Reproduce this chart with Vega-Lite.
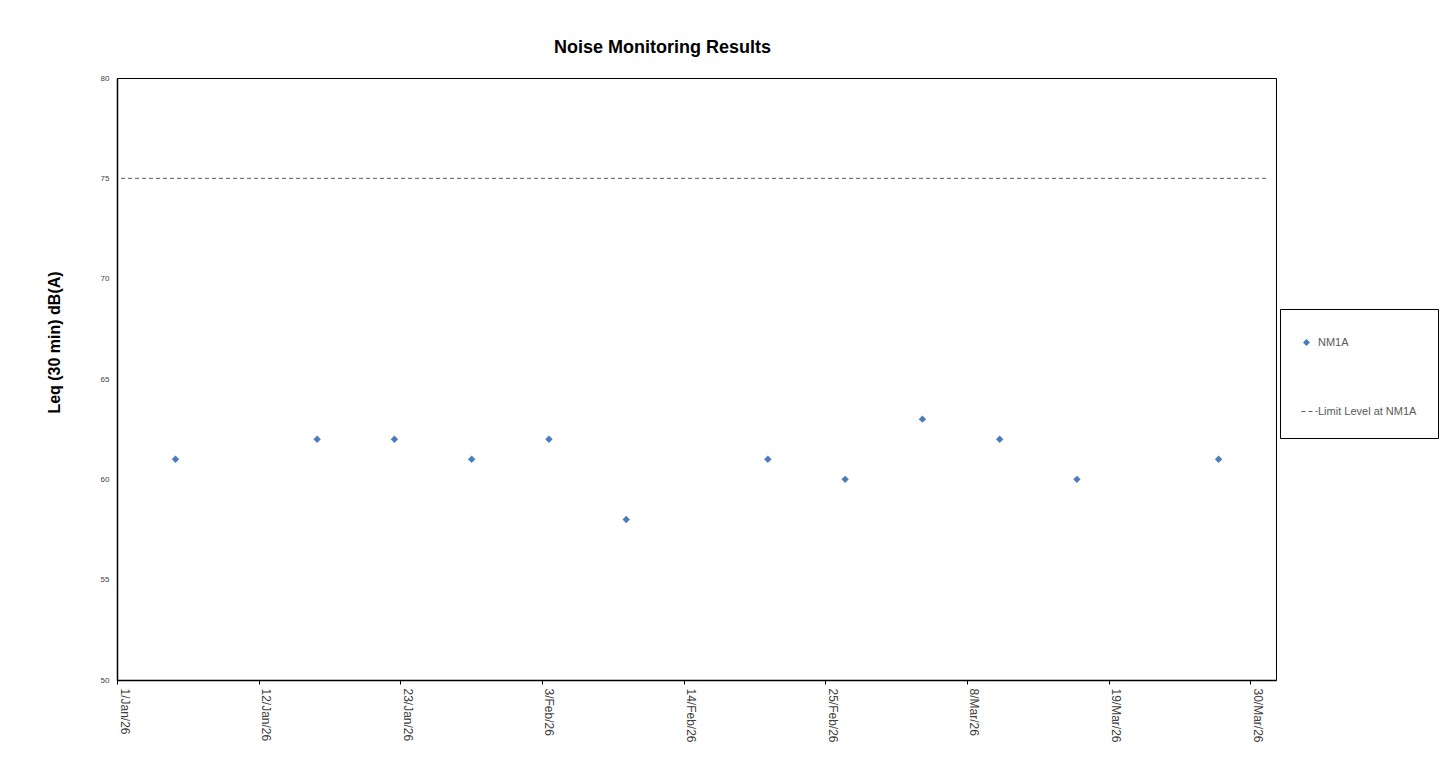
{
  "$schema": "https://vega.github.io/schema/vega-lite/v6.json",
  "width": 1159,
  "height": 602,
  "autosize": {"type": "none"},
  "padding": {"left": 117, "top": 78, "right": 177, "bottom": 102},
  "background": "white",
  "config": {
    "view": {"stroke": "black", "strokeWidth": 1},
    "font": "Liberation Sans"
  },
  "title": {
    "text": "Noise Monitoring Results",
    "font": "Liberation Sans",
    "fontSize": 18,
    "fontWeight": "bold",
    "color": "black",
    "anchor": "middle",
    "dx": -34,
    "dy": 22,
    "offset": 25,
    "baseline": "alphabetic"
  },
  "datasets": {
    "noise": [
      {"date": "2026-01-05T13:00", "leq": 61, "series": "NM1A"},
      {"date": "2026-01-16T13:00", "leq": 62, "series": "NM1A"},
      {"date": "2026-01-22T13:00", "leq": 62, "series": "NM1A"},
      {"date": "2026-01-28T13:00", "leq": 61, "series": "NM1A"},
      {"date": "2026-02-03T13:00", "leq": 62, "series": "NM1A"},
      {"date": "2026-02-09T13:00", "leq": 58, "series": "NM1A"},
      {"date": "2026-02-20T13:00", "leq": 61, "series": "NM1A"},
      {"date": "2026-02-26T13:00", "leq": 60, "series": "NM1A"},
      {"date": "2026-03-04T13:00", "leq": 63, "series": "NM1A"},
      {"date": "2026-03-10T13:00", "leq": 62, "series": "NM1A"},
      {"date": "2026-03-16T13:00", "leq": 60, "series": "NM1A"},
      {"date": "2026-03-27T13:00", "leq": 61, "series": "NM1A"}
    ],
    "limit": [
      {"date": "2026-01-01T07:30", "leq": 75, "series": "Limit Level at NM1A"},
      {"date": "2026-03-31T10:30", "leq": 75, "series": "Limit Level at NM1A"}
    ]
  },
  "encoding": {
    "x": {
      "field": "date",
      "type": "temporal",
      "scale": {
        "domain": [
          {"year": 2026, "month": 1, "date": 1},
          {"year": 2026, "month": 4, "date": 1}
        ],
        "nice": false
      },
      "axis": {
        "title": null,
        "values": [
          {"year": 2026, "month": 1, "date": 1},
          {"year": 2026, "month": 1, "date": 12},
          {"year": 2026, "month": 1, "date": 23},
          {"year": 2026, "month": 2, "date": 3},
          {"year": 2026, "month": 2, "date": 14},
          {"year": 2026, "month": 2, "date": 25},
          {"year": 2026, "month": 3, "date": 8},
          {"year": 2026, "month": 3, "date": 19},
          {"year": 2026, "month": 3, "date": 30}
        ],
        "format": "%-d/%b/%y",
        "labelAngle": 90,
        "labelAlign": "left",
        "labelBaseline": "bottom",
        "labelFont": "Liberation Sans",
        "labelFontSize": 12,
        "labelColor": "#404040",
        "labelPadding": 4,
        "labelOverlap": false,
        "labelFlush": false,
        "tickSize": 4,
        "tickColor": "black",
        "domainColor": "black",
        "domainWidth": 1.5,
        "grid": false
      }
    },
    "y": {
      "field": "leq",
      "type": "quantitative",
      "scale": {"domain": [50, 80], "nice": false, "zero": false},
      "axis": {
        "title": "Leq (30 min) dB(A)",
        "titleFont": "Liberation Sans",
        "titleFontSize": 16,
        "titleFontWeight": "bold",
        "titleColor": "black",
        "titleAngle": -90,
        "titleX": -55,
        "titleY": 264,
        "titleAlign": "center",
        "titleBaseline": "bottom",
        "values": [50, 55, 60, 65, 70, 75, 80],
        "ticks": false,
        "labelFont": "Liberation Sans",
        "labelFontSize": 8,
        "labelColor": "#404040",
        "labelPadding": 8,
        "domainColor": "black",
        "domainWidth": 1.5,
        "grid": false
      }
    }
  },
  "layer": [
    {
      "data": {"name": "limit"},
      "mark": {"type": "line", "color": "#595959", "strokeWidth": 1},
      "encoding": {
        "strokeDash": {
          "field": "series",
          "type": "nominal",
          "scale": {"domain": ["Limit Level at NM1A"], "range": [[4, 3]]},
          "legend": {
            "orient": "none",
            "legendX": 1163,
            "legendY": 231,
            "title": " ",
            "titleFontSize": 72,
            "titlePadding": 1,
            "strokeColor": "black",
            "padding": 21,
            "symbolType": "stroke",
            "symbolSize": 256,
            "symbolStrokeColor": "#595959",
            "symbolStrokeWidth": 1,
            "labelFont": "Liberation Sans",
            "labelFontSize": 11,
            "labelColor": "#595959",
            "labelOffset": 0
          }
        }
      }
    },
    {
      "data": {"name": "noise"},
      "mark": {"type": "point", "filled": true, "size": 55, "opacity": 1, "color": "#4a7ebb"},
      "encoding": {
        "shape": {
          "field": "series",
          "type": "nominal",
          "scale": {"domain": ["NM1A"], "range": ["diamond"]},
          "legend": {
            "orient": "none",
            "legendX": 1184,
            "legendY": 259,
            "title": null,
            "padding": 0,
            "symbolSize": 49,
            "labelFont": "Liberation Sans",
            "labelFontSize": 11,
            "labelColor": "#595959",
            "labelOffset": 6
          }
        }
      }
    }
  ]
}
